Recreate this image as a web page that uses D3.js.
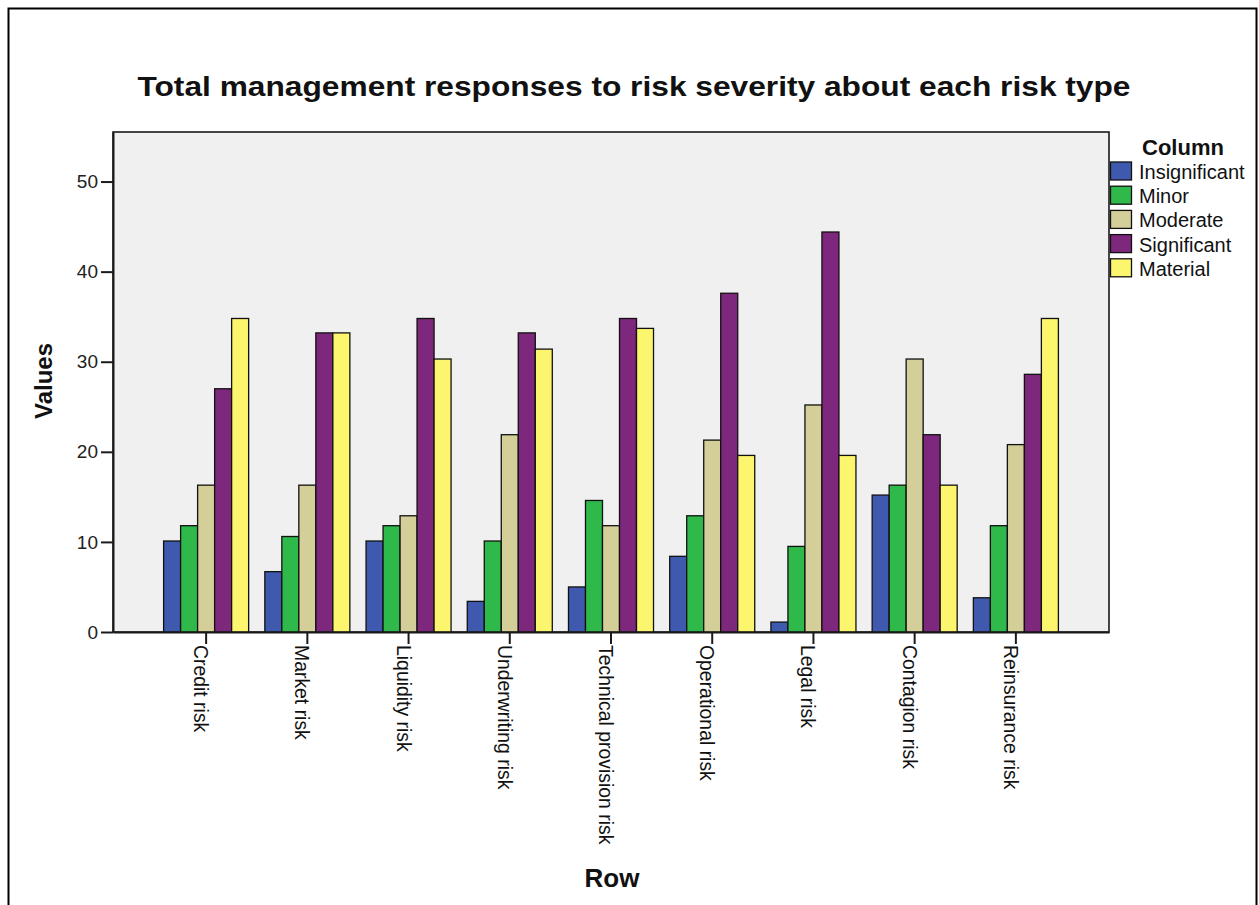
<!DOCTYPE html>
<html>
<head>
<meta charset="utf-8">
<script src="https://cdn.jsdelivr.net/npm/d3@7"></script>
<style>
  html, body { margin: 0; padding: 0; background: #ffffff; }
  svg { display: block; font-family: "Liberation Sans", Arial, sans-serif; }
</style>
</head>
<body>
<svg id="chart" width="1259" height="905"></svg>
<script>
// Risk types along the category axis
const categories = [
  "Credit risk", "Market risk", "Liquidity risk", "Underwriting risk",
  "Technical provision risk", "Operational risk", "Legal risk",
  "Contagion risk", "Reinsurance risk"
];

// Severity levels (legend order)
const seriesNames = ["Insignificant", "Minor", "Moderate", "Significant", "Material"];

// Percentage of responses per severity, one value per risk type
const insignificant = [10.1, 6.7, 10.1, 3.4, 5.0, 8.4, 1.1, 15.2, 3.8];
const minor         = [11.8, 10.6, 11.8, 10.1, 14.6, 12.9, 9.5, 16.3, 11.8];
const moderate      = [16.3, 16.3, 12.9, 21.9, 11.8, 21.3, 25.2, 30.3, 20.8];
const significant   = [27.0, 33.2, 34.8, 33.2, 34.8, 37.6, 44.4, 21.9, 28.6];
const material      = [34.8, 33.2, 30.3, 31.4, 33.7, 19.6, 19.6, 16.3, 34.8];

const yTicks = [0, 10, 20, 30, 40, 50];

const seriesValues = [insignificant, minor, moderate, significant, material];
const colors = ["#3f59ae", "#2fb94a", "#d4ce99", "#7d277d", "#fbf66d"];

const svg = d3.select("#chart");

// Outer frame
svg.append("rect")
  .attr("x", 8.5).attr("y", 8.5)
  .attr("width", 1248).attr("height", 1000)
  .attr("fill", "none").attr("stroke", "#000").attr("stroke-width", 2);

const plot = { left: 113, top: 132, right: 1109, bottom: 632 };

const x = d3.scaleBand()
  .domain(categories)
  .range([plot.left, plot.right])
  .paddingInner(0.16)
  .paddingOuter(0.5);

const xSub = d3.scaleBand()
  .domain(seriesNames)
  .range([0, x.bandwidth()]);

const y = d3.scaleLinear()
  .domain([0, 55.5])
  .range([plot.bottom, plot.top]);

const color = d3.scaleOrdinal().domain(seriesNames).range(colors);

// Plot background
svg.append("rect")
  .attr("x", plot.left).attr("y", plot.top)
  .attr("width", plot.right - plot.left).attr("height", plot.bottom - plot.top)
  .attr("fill", "#f0f0f0").attr("stroke", "#1a1a1a").attr("stroke-width", 1.6);

// Bars
const rows = categories.map((c, i) => ({
  category: c,
  values: seriesNames.map((s, j) => ({ series: s, value: seriesValues[j][i] }))
}));

const groups = svg.append("g").selectAll("g")
  .data(rows).join("g")
  .attr("transform", d => `translate(${x(d.category)},0)`);

groups.selectAll("rect")
  .data(d => d.values).join("rect")
  .attr("x", d => xSub(d.series))
  .attr("y", d => y(d.value))
  .attr("width", xSub.bandwidth())
  .attr("height", d => y(0) - y(d.value))
  .attr("fill", d => color(d.series))
  .attr("stroke", "#111")
  .attr("stroke-width", 1.3);

// Y axis
const yAxis = svg.append("g")
  .attr("transform", `translate(${plot.left},0)`)
  .call(d3.axisLeft(y).tickValues(yTicks).tickSizeInner(12).tickSizeOuter(0)
    .tickPadding(3).tickFormat(d3.format("d")));
yAxis.select(".domain").attr("stroke", "#1a1a1a").attr("stroke-width", 2);
yAxis.selectAll(".tick line").attr("stroke", "#1a1a1a").attr("stroke-width", 2);
yAxis.selectAll(".tick text")
  .attr("fill", "#222").attr("font-size", 19)
  .attr("font-family", "Liberation Sans, Arial, sans-serif");

// X axis
const xAxis = svg.append("g")
  .attr("transform", `translate(0,${plot.bottom})`)
  .call(d3.axisBottom(x).tickSizeInner(12).tickSizeOuter(0).tickPadding(0));
xAxis.select(".domain").attr("stroke", "#1a1a1a").attr("stroke-width", 2);
xAxis.selectAll(".tick line").attr("stroke", "#1a1a1a").attr("stroke-width", 2);
xAxis.selectAll(".tick text")
  .attr("fill", "#111").attr("font-size", 19.4)
  .attr("font-family", "Liberation Sans, Arial, sans-serif")
  .attr("text-anchor", "start")
  .attr("transform", "translate(0,13) rotate(90)")
  .attr("x", 0).attr("y", 0).attr("dy", "0.62em");

// Title
svg.append("text")
  .attr("x", 634).attr("y", 96)
  .attr("text-anchor", "middle")
  .attr("font-size", 28).attr("font-weight", "bold").attr("fill", "#111")
  .attr("textLength", 993).attr("lengthAdjust", "spacingAndGlyphs")
  .text("Total management responses to risk severity about each risk type");

// Axis titles
svg.append("text")
  .attr("transform", "translate(52,381) rotate(-90)")
  .attr("text-anchor", "middle")
  .attr("font-size", 24).attr("font-weight", "bold").attr("fill", "#111")
  .text("Values");

svg.append("text")
  .attr("x", 612).attr("y", 887)
  .attr("text-anchor", "middle")
  .attr("font-size", 26).attr("font-weight", "bold").attr("fill", "#111")
  .text("Row");

// Legend
const legend = svg.append("g").attr("transform", "translate(1110,0)");
legend.append("text")
  .attr("x", 73).attr("y", 155)
  .attr("text-anchor", "middle")
  .attr("font-size", 22).attr("font-weight", "bold").attr("fill", "#111")
  .text("Column");

const items = legend.selectAll("g.item")
  .data(seriesNames).join("g")
  .attr("class", "item")
  .attr("transform", (d, i) => `translate(0,${162 + i * 24.2})`);

items.append("rect")
  .attr("x", 0.5).attr("y", 0)
  .attr("width", 21).attr("height", 18)
  .attr("fill", d => color(d))
  .attr("stroke", "#111").attr("stroke-width", 1.3);

items.append("text")
  .attr("x", 29).attr("y", 17)
  .attr("font-size", 20).attr("fill", "#111")
  .text(d => d);
</script>
</body>
</html>
